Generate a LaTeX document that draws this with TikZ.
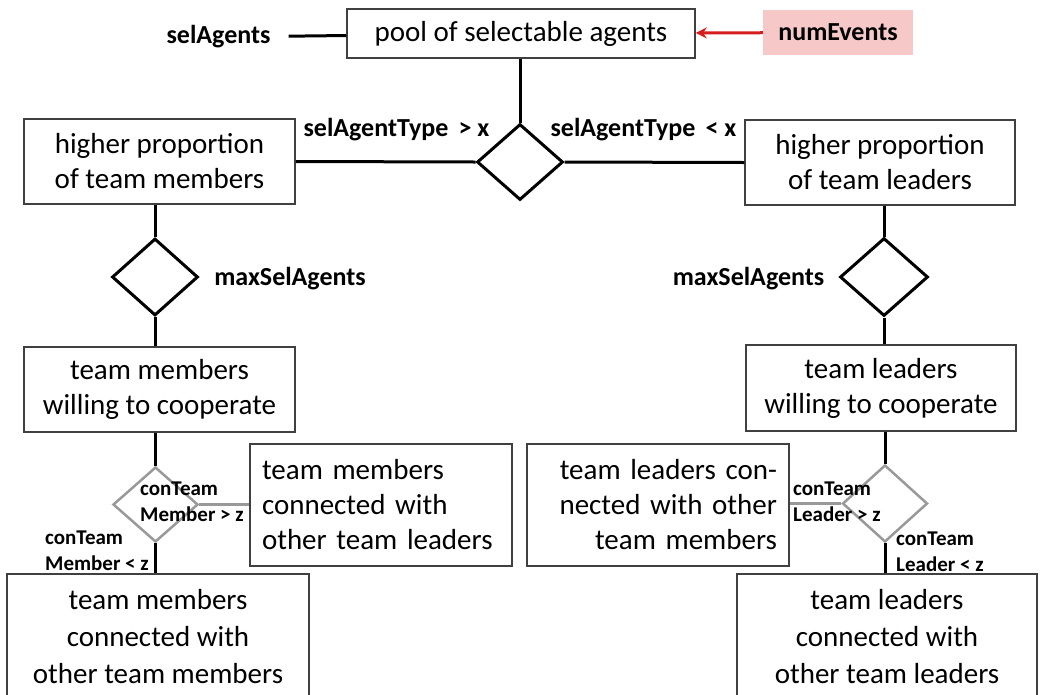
\documentclass[tikz,border=0pt]{standalone}
\usepackage{fontspec}
\setmainfont{Carlito}
\usetikzlibrary{shapes.geometric,arrows.meta}
\definecolor{pinkbg}{RGB}{246,200,200}
\definecolor{arrred}{RGB}{215,30,30}
\begin{document}
\begin{tikzpicture}[x=1pt,y=-1pt,
  box/.style={draw=black!75, line width=1.5pt, fill=white, align=center,
    font=\fontsize{29}{35}\selectfont, inner sep=0pt},
  dec/.style={diamond, draw=black, line width=3pt, inner sep=0pt, fill=white},
  gdec/.style={diamond, draw=black!40, line width=2.5pt, inner sep=0pt, fill=white},
  conn/.style={line width=3pt, draw=black},
  gconn/.style={line width=3pt, draw=black!40},
  lab/.style={font=\bfseries\fontsize{26}{30}\selectfont, inner sep=0pt},
  slab/.style={font=\bfseries\fontsize{21}{26}\selectfont, inner sep=0pt, align=left},
]
\clip (0,0) rectangle (1040,694);
\fill[white] (0,0) rectangle (1040,694);

% boxes
\node[box, minimum width=348pt, minimum height=49pt] (pool) at (521,33.5) {pool of selectable agents};
\node[box, minimum width=271pt, minimum height=85pt] (hpm) at (159.5,161.5) {higher proportion\\of team members};
\node[box, minimum width=270pt, minimum height=85pt] (hpl) at (880,162.5) {higher proportion\\of team leaders};
\node[box, minimum width=271pt, minimum height=85pt] (tmw) at (159.5,389.5) {team members\\willing to cooperate};
\node[box, minimum width=270pt, minimum height=86pt] (tlw) at (881,388) {team leaders\\willing to cooperate};
\node[box, minimum height=122pt, text width=238pt, inner xsep=12pt, align=left] (tmcl) at (381,505) {team members\\connected with\\other team leaders};
\node[box, minimum height=122pt, text width=238pt, inner xsep=12pt, align=right] (tlcm) at (658,505) {team leaders con-\\nected with other\\team members};
\node[box, minimum width=302pt, minimum height=126pt, font=\fontsize{29}{37}\selectfont] (tmcm) at (158,637) {team members\\connected with\\other team members};
\node[box, minimum width=300pt, minimum height=126pt, font=\fontsize{29}{37}\selectfont] (tlcl) at (887,637) {team leaders\\connected with\\other team leaders};

% decisions
\node[dec, minimum width=86pt, minimum height=76pt] (d1) at (520,162) {};
\node[dec, minimum width=86pt, minimum height=77pt] (d2L) at (155,277) {};
\node[dec, minimum width=88pt, minimum height=78pt] (d2R) at (884,277) {};
\node[gdec, minimum width=85pt, minimum height=75pt] (d3L) at (155.5,504.5) {};
\node[gdec, minimum width=85pt, minimum height=77pt] (d3R) at (885,503.5) {};

% top labels
\node[lab] (selAgents) at (218.5,37) {selAgents};
\node[lab, fill=pinkbg, minimum width=150pt, minimum height=45pt] (numEvents) at (838,32.5) {numEvents};

% connectors
\draw[conn, shorten <=18pt] (selAgents) -- (pool);
\draw[line width=3pt, draw=arrred, -{Stealth[length=11pt,width=11pt]}] (numEvents) -- (pool);
\draw[conn] (pool.south -| d1.north) -- (d1.north);
\draw[conn] (hpm.east) -- (d1.west);
\draw[conn] (d1.east) -- (hpl.west);
\draw[conn] (d2L.north |- hpm.south) -- (d2L.north);
\draw[conn] (d2L.south) -- (d2L.south |- tmw.north);
\draw[conn] (d2R.north |- hpl.south) -- (d2R.north);
\draw[conn] (d2R.south) -- (d2R.south |- tlw.north);
\draw[conn] (d3L.north |- tmw.south) -- (d3L.north);
\draw[conn] (d3L.south) -- (d3L.south |- tmcm.north);
\draw[conn] (d3R.north |- tlw.south) -- (d3R.north);
\draw[conn] (d3R.south) -- (d3R.south |- tlcl.north);
\draw[gconn] (d3L.east) -- (d3L.east -| tmcl.west);
\draw[gconn] (d3R.west) -- (d3R.west -| tlcm.east);

% condition labels
\node[lab] (sgt) at (396.5,130) {selAgentType \,> x};
\node[lab] (slt) at (643.5,130) {selAgentType \,< x};
\node[lab] (msL) at (290,279) {maxSelAgents};
\node[lab] (msR) at (748.5,279) {maxSelAgents};
\node[slab, anchor=west] (cmg) at (140,502) {conTeam\\Member > z};
\node[slab, anchor=west] (cml) at (45,551) {conTeam\\Member < z};
\node[slab, anchor=west] (clg) at (793,502) {conTeam\\Leader > z};
\node[slab, anchor=west] (cll) at (896,552) {conTeam\\Leader < z};
\end{tikzpicture}
\end{document}
